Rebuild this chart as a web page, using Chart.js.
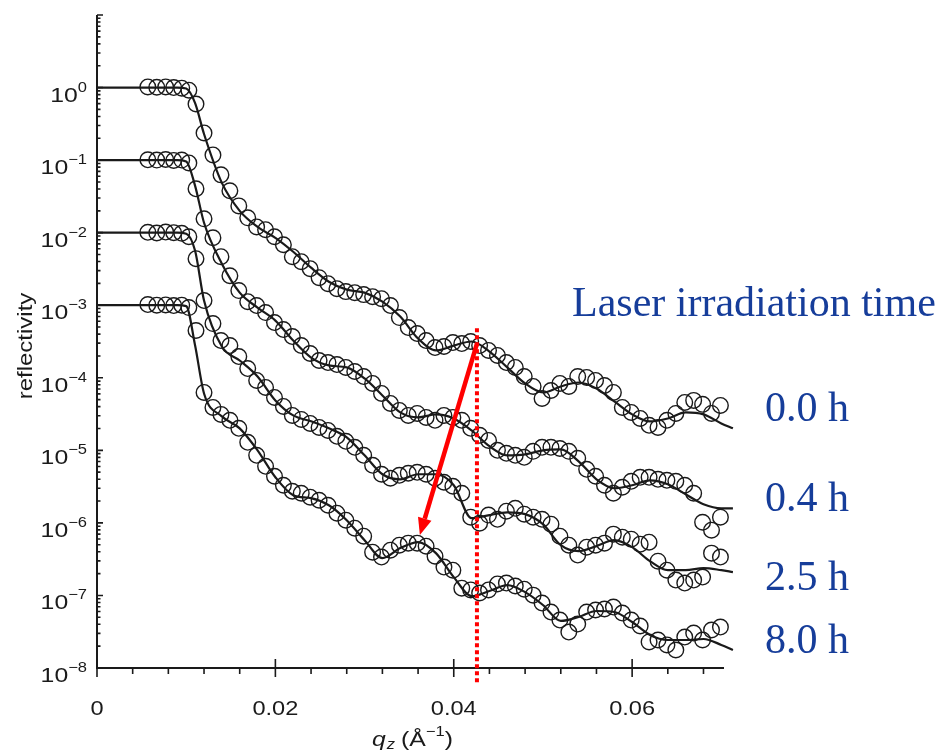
<!DOCTYPE html>
<html lang="en">
<head>
<meta charset="utf-8">
<title>X-ray reflectivity vs laser irradiation time</title>
<script src="https://cdn.jsdelivr.net/npm/chart.js@4.4.0/dist/chart.umd.min.js"></script>
<style>
  html, body { margin: 0; padding: 0; background: #fff; }
  #wrap { width: 944px; height: 754px; }
</style>
</head>
<body>
<div id="wrap"><canvas id="myChart" width="944" height="754"></canvas></div>
<script>
// measured points, q_z in 1/A (same grid for all runs)
var qz = [0.0057, 0.0067, 0.0077, 0.0086, 0.0095, 0.0103, 0.0111, 0.0120, 0.0130, 0.0139,
  0.0149, 0.0159, 0.0169, 0.0179, 0.0189, 0.0199, 0.0209, 0.0219, 0.0229, 0.0239,
  0.0249, 0.0259, 0.0269, 0.0279, 0.0289, 0.0299, 0.0309, 0.0319, 0.0329, 0.0339,
  0.0349, 0.0359, 0.0369, 0.0379, 0.0389, 0.0399, 0.0409, 0.0419, 0.0429, 0.0439,
  0.0449, 0.0459, 0.0469, 0.0479, 0.0489, 0.0499, 0.0509, 0.0519, 0.0529, 0.0539,
  0.0549, 0.0559, 0.0569, 0.0579, 0.0589, 0.0599, 0.0609, 0.0619, 0.0629, 0.0639,
  0.0649, 0.0659, 0.0669, 0.0679, 0.0689, 0.0699];

// reflectivity, curves offset by a decade each
var r00 = [1.02, 1.01, 1.02, 1.0, 0.98, 0.92, 0.593, 0.237, 0.118, 0.0626,
  0.0377, 0.0234, 0.0160, 0.0120, 0.0110, 0.00879, 0.00682, 0.00467, 0.00398, 0.00319,
  0.00240, 0.00198, 0.00169, 0.00154, 0.00149, 0.00140, 0.00131, 0.00123, 9.9e-4, 6.75e-4,
  4.92e-4, 4.07e-4, 3.26e-4, 2.61e-4, 2.70e-4, 3.06e-4, 2.96e-4, 3.16e-4, 2.78e-4, 2.38e-4,
  2.03e-4, 1.62e-4, 1.39e-4, 1.04e-4, 7.59e-5, 5.19e-5, 6.68e-5, 8.36e-5, 7.59e-5, 1.04e-4,
  1.01e-4, 9.18e-5, 7.83e-5, 6.28e-5, 3.90e-5, 3.33e-5, 2.75e-5, 2.21e-5, 2.07e-5, 2.59e-5,
  3.23e-5, 4.57e-5, 4.88e-5, 4.30e-5, 3.23e-5, 4.16e-5];
var r04 = [0.101, 0.1, 0.102, 0.099, 0.1, 0.0915, 0.0402, 0.0155, 0.00851, 0.00467,
  0.00255, 0.00159, 0.00112, 9.89e-4, 7.91e-4, 5.77e-4, 4.62e-4, 3.70e-4, 2.78e-4, 2.16e-4,
  1.73e-4, 1.62e-4, 1.52e-4, 1.39e-4, 1.22e-4, 1.04e-4, 8.36e-5, 6.08e-5, 4.43e-5, 3.55e-5,
  3.03e-5, 3.23e-5, 2.84e-5, 2.59e-5, 3.03e-5, 2.84e-5, 2.59e-5, 2.01e-5, 1.61e-5, 1.37e-5,
  1.0e-5, 9.1e-6, 8.53e-6, 8.01e-6, 9.68e-6, 1.10e-5, 1.10e-5, 1.06e-5, 9.68e-6, 7.76e-6,
  5.48e-6, 4.39e-6, 3.30e-6, 2.56e-6, 3.10e-6, 3.74e-6, 4.25e-6, 4.25e-6, 3.99e-6, 3.86e-6,
  3.74e-6, 3.30e-6, 2.56e-6, 1.02e-6, 7.94e-7, 1.20e-6];
var r25 = [0.0101, 0.0099, 0.0102, 0.01, 0.0098, 0.00879, 0.00438, 0.00116, 5.58e-4, 3.26e-4,
  2.78e-4, 1.96e-4, 1.34e-4, 9.18e-5, 7.36e-5, 5.36e-5, 4.03e-5, 3.03e-5, 2.67e-5, 2.35e-5,
  2.07e-5, 1.88e-5, 1.56e-5, 1.33e-5, 1.10e-5, 8.53e-6, 6.22e-6, 4.68e-6, 4.12e-6, 4.53e-6,
  4.83e-6, 4.98e-6, 4.68e-6, 4.12e-6, 3.63e-6, 3.20e-6, 2.56e-6, 1.20e-6, 9.9e-7, 1.28e-6,
  1.12e-6, 1.45e-6, 1.59e-6, 1.32e-6, 1.20e-6, 1.12e-6, 9.6e-7, 6.56e-7, 4.93e-7, 3.60e-7,
  4.63e-7, 4.93e-7, 5.26e-7, 7.0e-7, 6.35e-7, 5.97e-7, 5.09e-7, 5.42e-7, 2.97e-7, 2.23e-7,
  1.63e-7, 1.48e-7, 1.63e-7, 1.79e-7, 3.83e-7, 3.38e-7];
var r80 = [1.02e-3, 1.0e-3, 1.01e-3, 0.99e-3, 1.0e-3, 9.27e-4, 4.48e-4, 6.28e-5, 3.90e-5, 3.13e-5,
  2.59e-5, 2.01e-5, 1.29e-5, 8.53e-6, 6.02e-6, 4.39e-6, 3.30e-6, 2.73e-6, 2.56e-6, 2.26e-6,
  2.05e-6, 1.75e-6, 1.36e-6, 1.09e-6, 8.45e-7, 6.56e-7, 3.95e-7, 3.38e-7, 4.21e-7, 4.93e-7,
  5.26e-7, 5.26e-7, 4.78e-7, 3.48e-7, 2.46e-7, 2.23e-7, 1.26e-7, 1.19e-7, 1.08e-7, 1.19e-7,
  1.44e-7, 1.48e-7, 1.35e-7, 1.22e-7, 1.01e-7, 7.85e-8, 5.90e-8, 4.58e-8, 3.13e-8, 4.03e-8,
  5.90e-8, 6.30e-8, 6.50e-8, 6.92e-8, 5.72e-8, 4.58e-8, 3.79e-8, 2.29e-8, 2.43e-8, 2.08e-8,
  1.77e-8, 2.67e-8, 3.03e-8, 2.43e-8, 3.34e-8, 3.67e-8];

// model fits
var qFit = [0, 0.009, 0.010, 0.011, 0.012, 0.014, 0.016, 0.018, 0.020, 0.022,
  0.024, 0.026, 0.028, 0.030, 0.032, 0.034, 0.036, 0.038, 0.040, 0.042,
  0.044, 0.046, 0.048, 0.050, 0.052, 0.054, 0.056, 0.058, 0.060, 0.062,
  0.064, 0.066, 0.068, 0.070, 0.0713];
var fit00 = [1, 1, 0.97, 0.61, 0.229, 0.0486, 0.0200, 0.0120, 0.0085, 0.00546,
  0.00329, 0.00211, 0.00164, 0.00149, 0.00112, 6.97e-4, 3.47e-4, 2.38e-4, 2.78e-4, 3.16e-4,
  2.30e-4, 1.39e-4, 8.36e-5, 6.28e-5, 7.59e-5, 8.61e-5, 7.13e-5, 4.72e-5, 3.13e-5, 2.51e-5,
  2.75e-5, 3.33e-5, 3.13e-5, 2.35e-5, 2.01e-5];
var fit04 = [0.1, 0.1, 0.096, 0.0442, 0.01368, 0.00373, 0.00149, 9.27e-4, 6.14e-4, 3.26e-4,
  1.90e-4, 1.48e-4, 1.39e-4, 9.78e-5, 5.71e-5, 3.33e-5, 2.84e-5, 3.13e-5, 2.75e-5, 1.88e-5,
  1.14e-5, 8.53e-6, 8.81e-6, 1.0e-5, 1.03e-5, 7.06e-6, 3.99e-6, 3.00e-6, 3.30e-6, 3.86e-6,
  3.41e-6, 2.48e-6, 1.81e-6, 1.59e-6, 1.59e-6];
var fit25 = [0.01, 0.01, 0.00966, 0.00563, 0.00116, 2.70e-4, 1.73e-4, 1.04e-4, 4.88e-5, 3.03e-5,
  2.51e-5, 2.01e-5, 1.51e-5, 8.53e-6, 4.68e-6, 3.99e-6, 4.68e-6, 4.68e-6, 3.30e-6, 1.16e-6,
  1.28e-6, 1.40e-6, 1.32e-6, 9.6e-7, 4.93e-7, 4.08e-7, 4.79e-7, 5.78e-7, 4.63e-7, 2.97e-7,
  2.23e-7, 2.23e-7, 2.38e-7, 2.23e-7, 2.10e-7];
var fit80 = [1e-3, 1e-3, 9.72e-4, 2.78e-4, 6.08e-5, 2.94e-5, 2.01e-5, 1.0e-5, 4.26e-6, 2.41e-6,
  2.19e-6, 1.75e-6, 1.09e-6, 5.78e-7, 3.27e-7, 4.49e-7, 5.43e-7, 3.83e-7, 1.79e-7, 9.8e-8,
  1.15e-7, 1.39e-7, 1.11e-7, 7.38e-8, 4.45e-8, 5.05e-8, 6.10e-8, 5.91e-8, 4.31e-8, 2.85e-8,
  2.43e-8, 2.43e-8, 2.51e-8, 2.08e-8, 1.77e-8];

var timeLabels = ['0.0 h', '0.4 h', '2.5 h', '8.0 h'];
var xTicks = [0, 0.02, 0.04, 0.06];
var xTickLabels = ['0', '0.02', '0.04', '0.06'];
var yExponents = [0, -1, -2, -3, -4, -5, -6, -7, -8];

// red guide at q_z = 0.0426 and the arrow following the shifted feature
var guideQ = 0.0426;
var guideRange = [4.8e-4, 6.3e-9];
var arrowFrom = [0.0426, 2.96e-4];
var arrowTo = [0.0362, 6.8e-7];

var ink = '#1a1a1a';
var blue = '#163d9a';

function pairs(xs, ys) {
  return xs.map(function (x, i) { return { x: x, y: ys[i] }; });
}

function measured(ys) {
  return {
    data: pairs(qz, ys),
    showLine: false,
    pointStyle: 'circle',
    pointRadius: 7.8,
    pointHoverRadius: 7.8,
    pointBorderWidth: 1.4,
    pointBorderColor: ink,
    pointBackgroundColor: 'rgba(0,0,0,0)',
    clip: false
  };
}

function fitted(ys) {
  return {
    data: pairs(qFit, ys),
    showLine: true,
    pointRadius: 0,
    borderColor: ink,
    borderWidth: 2.2,
    cubicInterpolationMode: 'monotone',
    fill: false,
    clip: false
  };
}

// text stretched horizontally like the original figure
function wideText(c, txt, x, y, sx) {
  c.save();
  c.translate(x, y);
  c.scale(sx, 1);
  c.fillText(txt, 0, 0);
  c.restore();
}

var decor = {
  id: 'decor',
  afterDraw: function (chart) {
    var c = chart.ctx, xs = chart.scales.x, ys = chart.scales.y, a = chart.chartArea;
    var sx = 1.18;
    var sans = '"Liberation Sans", Arial, sans-serif';
    c.save();

    // axes
    c.strokeStyle = ink;
    c.lineWidth = 2;
    c.beginPath();
    c.moveTo(a.left, a.top);
    c.lineTo(a.left, a.bottom);
    c.lineTo(a.right, a.bottom);
    c.stroke();

    // y ticks point inward
    c.lineWidth = 1.6;
    c.beginPath();
    for (var e = -8; e <= 1; e++) {
      var py = ys.getPixelForValue(Math.pow(10, e));
      c.moveTo(a.left, py); c.lineTo(a.left + 6, py);
      if (e < 1) {
        for (var m = 2; m <= 9; m++) {
          var pm = ys.getPixelForValue(m * Math.pow(10, e));
          c.moveTo(a.left, pm); c.lineTo(a.left + 3.5, pm);
        }
      }
    }
    c.stroke();

    // x ticks: majors cross the axis, minors hang below
    c.beginPath();
    for (var k = 0; k <= 17; k++) {
      var px = xs.getPixelForValue(k * 0.004);
      if (k % 5 === 0) {
        c.moveTo(px, a.bottom - 9); c.lineTo(px, a.bottom + 9);
      } else {
        c.moveTo(px, a.bottom); c.lineTo(px, a.bottom + 6);
      }
    }
    c.stroke();

    // y tick labels 10^n
    c.fillStyle = ink;
    c.textBaseline = 'alphabetic';
    c.textAlign = 'left';
    yExponents.forEach(function (n) {
      var py = ys.getPixelForValue(Math.pow(10, n));
      var exp = n === 0 ? '0' : '\u2212' + Math.abs(n);
      c.font = '14px ' + sans;
      var ew = c.measureText(exp).width * sx;
      c.font = '21px ' + sans;
      var bw = c.measureText('10').width * sx;
      var right = 87;
      wideText(c, '10', right - ew - bw, py + 14, sx);
      c.font = '14px ' + sans;
      wideText(c, exp, right - ew, py + 4, sx);
    });

    // x tick labels
    c.font = '20px ' + sans;
    xTicks.forEach(function (v, i) {
      var px = xs.getPixelForValue(v);
      var w = c.measureText(xTickLabels[i]).width * sx;
      wideText(c, xTickLabels[i], px - w / 2, 715, sx);
    });

    // axis titles
    c.save();
    c.translate(32, 346);
    c.rotate(-Math.PI / 2);
    c.scale(1.2, 1);
    c.font = '20px ' + sans;
    c.textAlign = 'center';
    c.fillText('reflectivity', 0, 0);
    c.restore();

    var tx = 372, tb = 746;
    c.font = 'italic 21px ' + sans;
    wideText(c, 'q', tx, tb, sx); tx += c.measureText('q').width * sx + 1;
    c.font = 'italic 14px ' + sans;
    wideText(c, 'z', tx, tb + 3, sx); tx += c.measureText('z').width * sx + 6;
    c.font = '21px ' + sans;
    wideText(c, '(\u00c5', tx, tb, sx); tx += c.measureText('(\u00c5').width * sx;
    c.font = '14px ' + sans;
    wideText(c, '\u22121', tx, tb - 10, sx); tx += c.measureText('\u22121').width * sx;
    c.font = '21px ' + sans;
    wideText(c, ')', tx, tb, sx);

    // red dotted guide
    var gx = xs.getPixelForValue(guideQ);
    c.strokeStyle = '#ff0000';
    c.lineWidth = 4;
    c.setLineDash([4, 3]);
    c.beginPath();
    c.moveTo(gx, ys.getPixelForValue(guideRange[0]));
    c.lineTo(gx, ys.getPixelForValue(guideRange[1]));
    c.stroke();
    c.setLineDash([]);

    // red arrow
    var x0 = xs.getPixelForValue(arrowFrom[0]), y0 = ys.getPixelForValue(arrowFrom[1]);
    var x1 = xs.getPixelForValue(arrowTo[0]), y1 = ys.getPixelForValue(arrowTo[1]);
    var ang = Math.atan2(y1 - y0, x1 - x0), head = 17, half = 7;
    var bx = x1 - head * Math.cos(ang), by = y1 - head * Math.sin(ang);
    c.lineWidth = 4.5;
    c.beginPath();
    c.moveTo(x0, y0);
    c.lineTo(bx, by);
    c.stroke();
    c.fillStyle = '#ff0000';
    c.beginPath();
    c.moveTo(x1, y1);
    c.lineTo(bx + half * Math.sin(ang), by - half * Math.cos(ang));
    c.lineTo(bx - half * Math.sin(ang), by + half * Math.cos(ang));
    c.closePath();
    c.fill();

    // irradiation time annotations
    c.fillStyle = blue;
    c.font = '42px "Liberation Serif", "Times New Roman", serif';
    c.textAlign = 'left';
    c.fillText('Laser irradiation time', 572, 316);
    var rows = [421, 511, 590, 653];
    timeLabels.forEach(function (t, i) {
      c.fillText(t, 765, rows[i]);
    });

    c.restore();
  }
};

var config = {
  type: 'scatter',
  data: {
    datasets: [
      fitted(fit00), fitted(fit04), fitted(fit25), fitted(fit80),
      measured(r00), measured(r04), measured(r25), measured(r80)
    ]
  },
  options: {
    responsive: false,
    animation: false,
    devicePixelRatio: 1,
    layout: { padding: { left: 97, right: 220, top: 15, bottom: 86 } },
    plugins: { legend: { display: false }, tooltip: { enabled: false } },
    scales: {
      x: { type: 'linear', min: 0, max: 0.0703, display: false },
      y: { type: 'logarithmic', min: 1e-8, max: 10, display: false }
    }
  },
  plugins: [decor]
};

var myChart = new Chart(document.getElementById('myChart').getContext('2d'), config);
</script>
</body>
</html>
